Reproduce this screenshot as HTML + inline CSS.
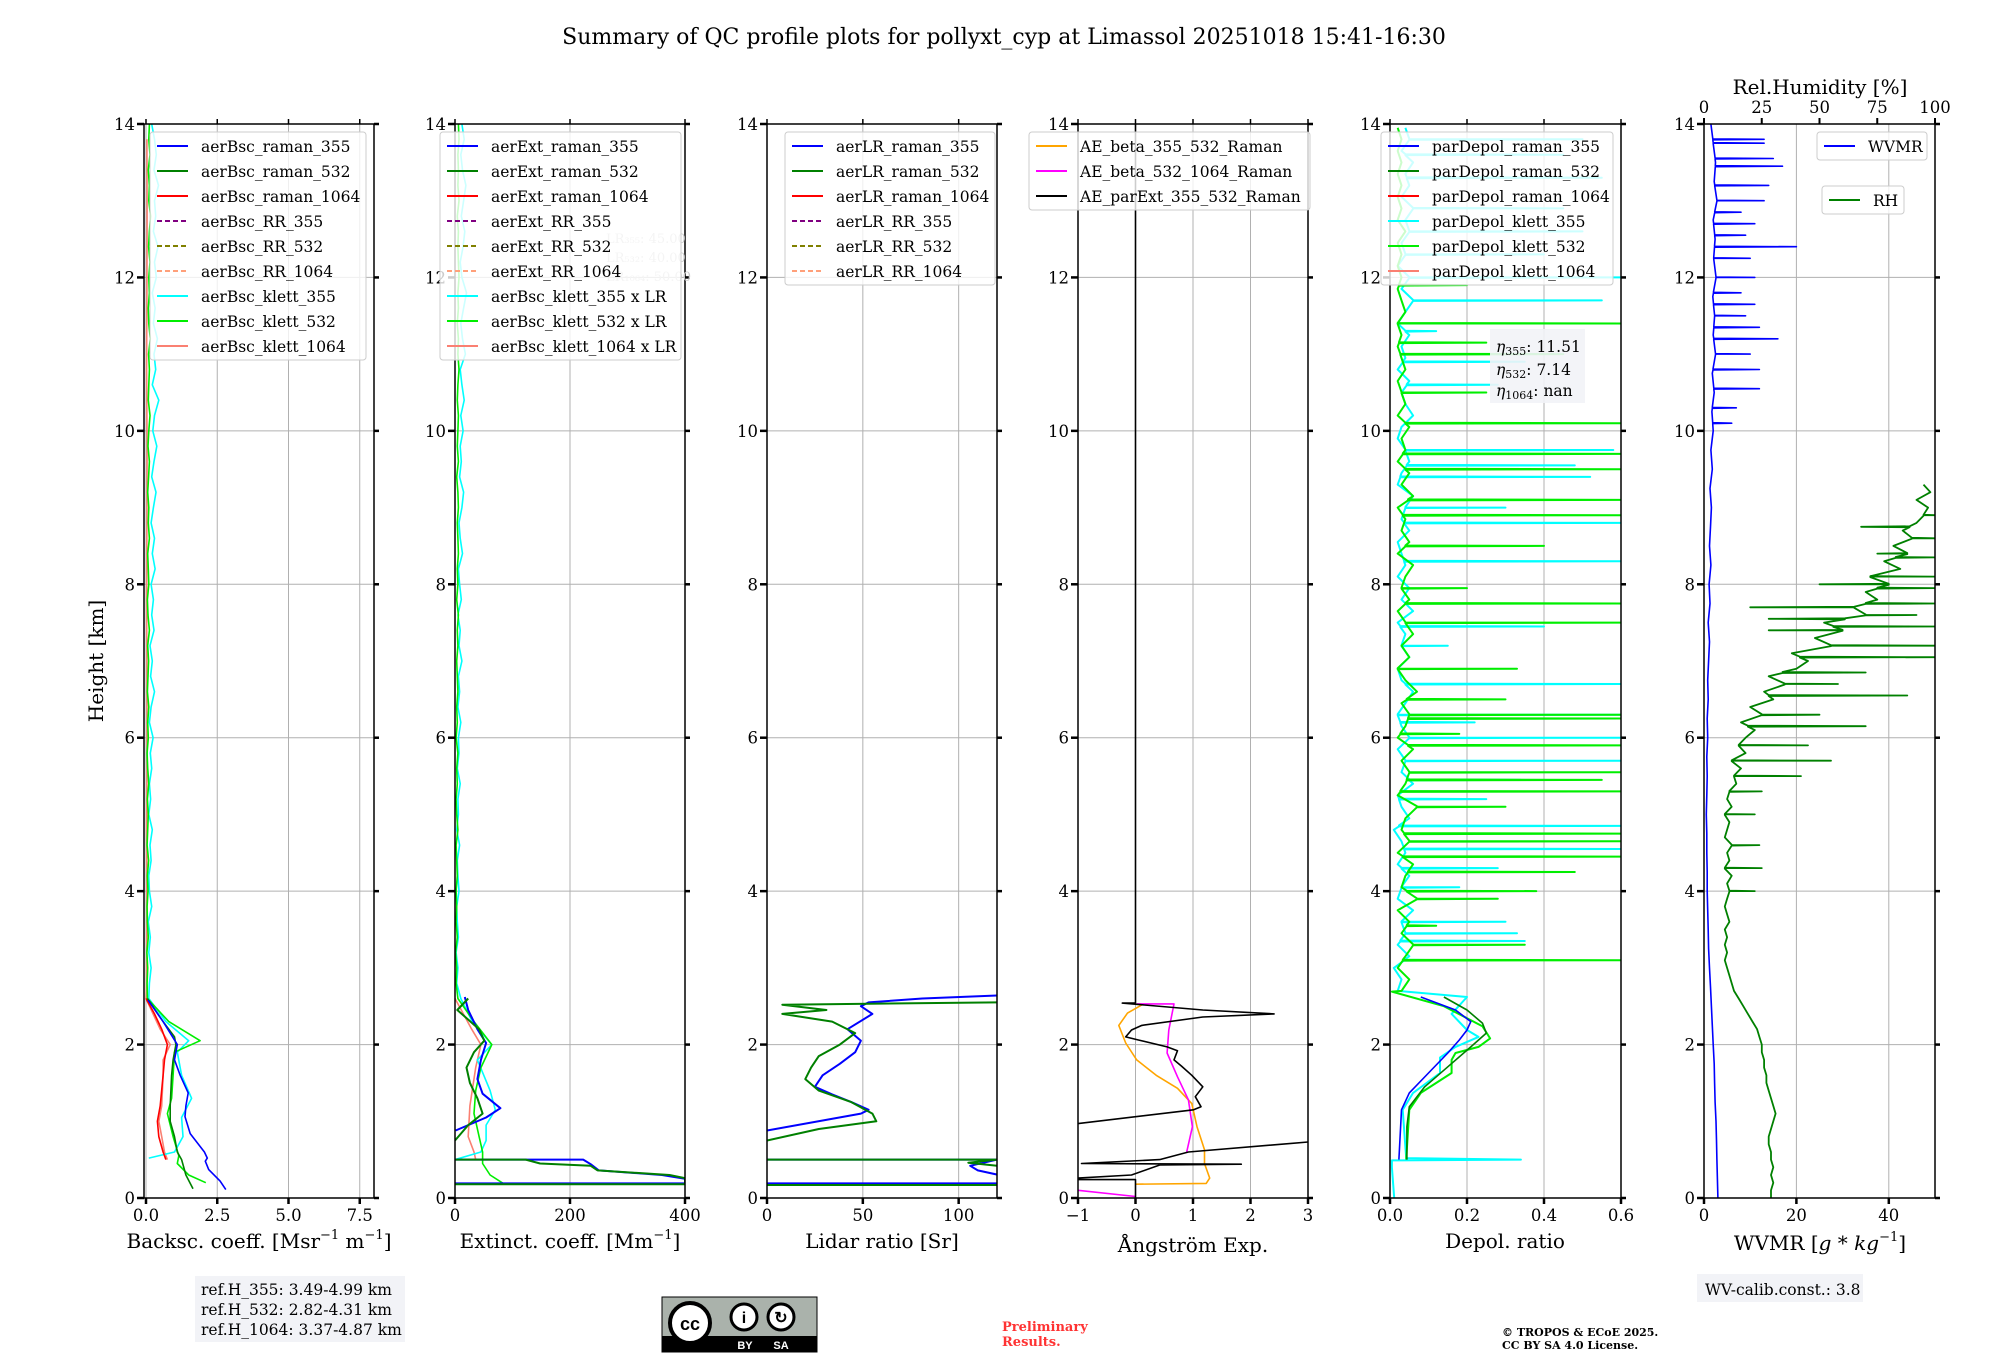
<!DOCTYPE html>
<html><head><meta charset="utf-8"><title>QC profile plots</title>
<style>
html,body{margin:0;padding:0;background:#fff;}
svg{display:block;font-family:"DejaVu Serif","Liberation Serif",serif;}
</style></head>
<body>
<svg id="chart" xmlns="http://www.w3.org/2000/svg" width="2000" height="1360" viewBox="0 0 2000 1360">
<rect x="0" y="0" width="2000" height="1360" fill="#fff"/>
<text x="1004" y="44" font-size="22" text-anchor="middle">Summary of QC profile plots for pollyxt_cyp at Limassol 20251018 15:41-16:30</text>
<text x="0" y="0" font-size="20" text-anchor="middle" transform="translate(103,661) rotate(-90)">Height [km]</text>
<text x="259" y="1248" font-size="20" text-anchor="middle">Backsc. coeff. [Msr<tspan dy="-9" font-size="13">−1</tspan><tspan dy="9"> m</tspan><tspan dy="-9" font-size="13">−1</tspan><tspan dy="9">]</tspan></text>
<text x="570" y="1248" font-size="20" text-anchor="middle">Extinct. coeff. [Mm<tspan dy="-9" font-size="13">−1</tspan><tspan dy="9">]</tspan></text>
<text x="882" y="1248" font-size="20" text-anchor="middle">Lidar ratio [Sr]</text>
<text x="1193" y="1252" font-size="20" text-anchor="middle">Ångström Exp.</text>
<text x="1505" y="1248" font-size="20" text-anchor="middle">Depol. ratio</text>
<text x="1820" y="1250" font-size="20" text-anchor="middle">WVMR [<tspan font-style="italic">g</tspan> * <tspan font-style="italic">kg</tspan><tspan dy="-9" font-size="13">−1</tspan><tspan dy="9">]</tspan></text>
<text x="1820" y="94" font-size="20" text-anchor="middle">Rel.Humidity [%]</text>
<g id="layers"></g>
<g>
<rect x="195" y="1276" width="210" height="66" fill="#f2f3f7"/>
<text x="201" y="1295" font-size="15.5">ref.H_355: 3.49-4.99 km</text>
<text x="201" y="1315" font-size="15.5">ref.H_532: 2.82-4.31 km</text>
<text x="201" y="1335" font-size="15.5">ref.H_1064: 3.37-4.87 km</text>
</g>
<g>
<rect x="662" y="1297" width="155" height="55" fill="#aab2ab" stroke="#000" stroke-width="1"/>
<rect x="662" y="1336" width="155" height="16" fill="#000"/>
<circle cx="690" cy="1323" r="20" fill="#fff" stroke="#000" stroke-width="4"/>
<text x="690" y="1330" font-size="18" font-weight="bold" text-anchor="middle" font-family="Liberation Sans, sans-serif">cc</text>
<circle cx="744" cy="1317" r="13" fill="#fff" stroke="#000" stroke-width="3"/>
<text x="744" y="1323" font-size="16" font-weight="bold" text-anchor="middle" font-family="Liberation Sans, sans-serif">i</text>
<circle cx="781" cy="1317" r="13" fill="#fff" stroke="#000" stroke-width="3"/>
<text x="781" y="1323" font-size="16" font-weight="bold" text-anchor="middle" font-family="Liberation Sans, sans-serif">↻</text>
<text x="745" y="1349" font-size="11" fill="#fff" font-weight="bold" text-anchor="middle" font-family="Liberation Sans, sans-serif">BY</text>
<text x="781" y="1349" font-size="11" fill="#fff" font-weight="bold" text-anchor="middle" font-family="Liberation Sans, sans-serif">SA</text>
</g>
<text x="1002" y="1331" font-size="13" font-weight="bold" fill="#ff3333">Preliminary</text>
<text x="1002" y="1346" font-size="13" font-weight="bold" fill="#ff3333">Results.</text>
<text x="1502" y="1336" font-size="11" font-weight="bold">© TROPOS &amp; ECoE 2025.</text>
<text x="1502" y="1349" font-size="11" font-weight="bold">CC BY SA 4.0 License.</text>
<g>
<rect x="1697" y="1274" width="166" height="28" fill="#f2f3f7"/>
<text x="1705" y="1295" font-size="15.5">WV-calib.const.: 3.8</text>
</g>
</svg>
<script>
// ---------- data (km heights / physical values) ----------
const bscR355H=[2.58,2.3,2.0,1.8,1.6,1.37,1.2,1.06,0.84,0.6,0.52,0.48,0.37,0.22,0.11];
const bscR355V=[0.07,0.6,1.1,1.0,1.2,1.48,1.4,1.37,1.55,2.05,2.15,2.08,2.2,2.6,2.8];
const bscR532H=[2.6,2.3,2.1,2.0,1.8,1.6,1.2,1.0,0.8,0.6,0.5,0.3,0.12];
const bscR532V=[0.05,0.6,1.0,1.05,0.95,0.9,0.85,0.85,1.0,1.1,1.25,1.4,1.65];
const bscR1064H=[2.6,2.4,2.2,2.0,1.8,1.6,1.2,1.0,0.8,0.6,0.5];
const bscR1064V=[0.0,0.3,0.55,0.75,0.65,0.6,0.5,0.4,0.45,0.6,0.7];
const bscK355H=[2.6,2.3,2.05,1.9,1.6,1.3,1.05,0.8,0.6,0.52];
const bscK355V=[0.1,0.7,1.5,1.1,1.25,1.6,1.25,1.3,1.0,0.1];
const bscK532H=[2.6,2.3,2.05,1.9,1.6,1.3,1.1,0.8,0.55,0.45,0.3,0.2];
const bscK532V=[0.05,0.8,1.9,1.0,0.95,0.9,0.75,0.95,1.15,1.1,1.5,2.1];
const bscK1064H=[2.6,2.4,2.2,2.0,1.8,1.6,1.2,1.0,0.8,0.6,0.5];
const bscK1064V=[0.0,0.25,0.5,0.85,0.6,0.6,0.55,0.45,0.55,0.65,0.75];
const bscK355Up=[0.12,0.18,0.1,0.15,0.08,0.2,0.12,0.1,0.18,0.14,0.22,0.1,0.16,0.12,0.2,0.15,0.25,0.12,0.18,0.3,0.16,0.22,0.14,0.28,0.2,0.26,0.18,0.32,0.22,0.3,0.18,0.26,0.35,0.2,0.28,0.38,0.24,0.3,0.45,0.22,0.34,0.28,0.4,0.26,0.32,0.22,0.36,0.3,0.42,0.26,0.34,0.3,0.44,0.28,0.36,0.3,0.2];
const bscK532Up=[0.04,0.06,0.03,0.08,0.05,0.04,0.07,0.05,0.09,0.04,0.06,0.08,0.05,0.1,0.06,0.04,0.08,0.06,0.1,0.05,0.07,0.09,0.06,0.12,0.07,0.05,0.1,0.08,0.06,0.12,0.08,0.1,0.06,0.09,0.12,0.07,0.1,0.14,0.08,0.1,0.12,0.09,0.15,0.1,0.08,0.12,0.1,0.14,0.09,0.12,0.16,0.1,0.12,0.08,0.14,0.1,0.12];
const bscK1064Up=[0.02,0.03,0.02,0.04,0.03,0.02,0.03,0.04,0.02,0.03,0.04,0.03];
const extR355H=[2.62,2.45,2.2,2.02,1.8,1.55,1.36,1.17,1.05,0.88,null,0.5,0.5,0.44,0.36,0.3,0.25,0.19,0.19];
const extR355V=[17,23,39,54,45,39,48,79,54,1,null,0,223,236,250,360,400,400,0];
const extR532H=[2.6,2.45,2.2,2.05,1.9,1.7,1.5,1.3,1.1,0.95,0.75,null,0.5,0.5,0.45,0.42,0.36,0.3,0.26,0.18,0.18];
const extR532V=[23,4,42,51,33,20,26,39,48,23,0,null,0,123,148,236,248,373,400,400,0];
const extK355H=[2.6,2.3,2.0,1.8,1.4,1.15,0.95,0.75,0.6,0.5];
const extK355V=[10,30,64,39,61,70,54,54,45,0];
const extK532H=[2.6,2.3,2.0,1.7,1.4,1.1,0.8,0.6,0.45,0.3,0.18];
const extK532V=[5,33,64,45,36,33,42,48,48,61,86];
const extK1064H=[2.6,2.2,2.0,1.7,1.2,0.8,0.6,0.5];
const extK1064V=[0,29,45,36,26,23,33,36];
const extK355Up=[3,5,2,6,4,3,7,5,4,8,3,6,5,9,4,7,6,10,5,8,6,12,7,9,5,11,8,6,13,9,7,12,15,8,11,9,14,10,16,12,9,18,13,10,15,20,12,9,14,17,11,15,19,13,10,16,12];
const extK532Up=[2,3,1,4,2,3,2,4,3,2,5,3,2,4,3,5,2,4,3,5,4,3,5,4,6,3,5,4,6,5,4,6,5,3,6,4,5,6,4,5,7,5,6,4,6,5,7,6,5,6,4,7,5,6,5,7,6];
const lr355H=[2.65,2.6,2.55,2.5,2.4,2.2,2.05,1.9,1.75,1.6,1.45,1.35,1.25,1.15,1.1,0.88,null,0.5,0.5,0.42,0.36,0.3,0.19,0.19];
const lr355V=[130,81,53,49,55,42,49,46,38,29,25,34,44,53,49,0,null,0,120,106,110,121,121,0];
const lr532H=[2.55,2.52,2.45,2.4,2.3,2.15,2.0,1.85,1.7,1.55,1.4,1.25,1.1,1.0,0.9,0.75,null,0.5,0.5,0.46,0.42,null,0.17,0.17];
const lr532V=[120,8,31,8,34,46,38,27,23,20,27,44,55,57,27,0,null,0,120,105,120,null,120,0];
const aeParExtH=[14,2.54,2.54,2.45,2.4,2.36,2.25,2.19,2.1,2.06,1.97,1.92,1.8,1.72,1.6,1.45,1.32,1.19,1.15,0.97,null,0.73,0.6,0.5,0.45,0.44,0.43,0.3,0.26,0.24,0.24,0];
const aeParExtV=[0,0,-0.23,1.17,2.41,1.17,0.11,-0.07,-0.17,0.05,0.55,0.73,0.67,0.8,0.98,1.17,1.04,1.14,1.01,-1,null,3,0.92,0.42,-0.94,1.84,0.42,-0.07,-1,-1,0,0];
const aeB355H=[2.53,2.41,2.25,2.02,1.8,1.6,1.43,1.23,0.93,0.63,0.45,0.26,0.19,0.18];
const aeB355V=[0.14,-0.14,-0.29,-0.17,0.02,0.36,0.73,0.98,1.07,1.2,1.2,1.29,1.23,0];
const aeB532H=[2.53,2.53,2.19,1.89,1.58,1.28,0.93,0.6,null,0.1,0.02];
const aeB532V=[0.02,0.67,0.58,0.55,0.73,0.92,0.99,0.89,null,-1,0];
const depR355H=[2.62,2.45,2.3,2.19,2.06,1.89,1.63,1.37,1.15,0.5];
const depR355V=[0.08,0.17,0.21,0.2,0.18,0.15,0.1,0.05,0.03,0.023];
const depR532H=[2.62,2.45,2.28,2.15,1.97,1.71,1.45,1.19,0.93,0.5];
const depR532V=[0.14,0.2,0.24,0.25,0.21,0.15,0.09,0.05,0.044,0.044];
const depK532H=[2.69,2.5,2.24,2.08,1.97,1.89,1.8,1.63,1.37,1.15,0.5];
const depK532V=[0.005,0.14,0.24,0.26,0.23,0.17,0.16,0.16,0.08,0.05,0.042];
const depK355H=[2.62,2.4,2.19,2.1,1.97,1.83,1.63,1.37,1.15,0.52,0.5,0.49,0.4,0.0];
const depK355V=[0.2,0.16,0.2,0.23,0.17,0.13,0.13,0.06,0.033,0.042,0.34,0.005,0.005,0.011];
const dep355Base=[0.02,0.03,0.01,0.05,0.02,0.04,0.03,0.06,0.02,0.03,0.05,0.02,0.04,0.03,0.01,0.05,0.03,0.02,0.06,0.03,0.04,0.02,0.05,0.03,0.02,0.04,0.06,0.03,0.02,0.05,0.03,0.04,0.02,0.06,0.03,0.05,0.02,0.04,0.03,0.02,0.05,0.03,0.04,0.06,0.02,0.03,0.05,0.04,0.02,0.03,0.06,0.04,0.03,0.05,0.02,0.04,0.03,0.05,0.02,0.04,0.06,0.03,0.05,0.02,0.04,0.03,0.05,0.04,0.06,0.03,0.05,0.04,0.06,0.03,0.05,0.04];
const dep532Base=[0.03,0.05,0.02,0.04,0.06,0.03,0.05,0.02,0.07,0.03,0.04,0.06,0.02,0.05,0.03,0.04,0.07,0.02,0.04,0.05,0.03,0.06,0.02,0.04,0.05,0.03,0.07,0.04,0.02,0.05,0.03,0.06,0.04,0.02,0.05,0.03,0.04,0.06,0.02,0.05,0.03,0.04,0.02,0.06,0.03,0.05,0.02,0.04,0.03,0.05,0.02,0.04,0.03,0.02,0.04,0.03,0.02,0.03,0.02,0.04,0.03,0.02,0.03,0.02,0.03,0.02,0.04,0.02,0.03,0.02,0.03,0.02,0.03,0.02,0.03,0.02];
const dep355SpikeH=[3.1,3.35,3.45,3.6,4.05,4.3,4.55,4.85,5.2,5.45,5.7,6.0,6.2,6.3,6.7,7.2,7.45,8.3,8.8,9.0,9.4,9.55,9.75,10.6,10.9,11.3,11.7,12.0,12.3,12.6,12.9,13.3,13.6,13.8];
const dep355SpikeV=[0.15,0.35,0.33,0.3,0.18,0.28,0.6,0.6,0.25,0.34,0.6,0.6,0.22,0.6,0.6,0.15,0.4,0.6,0.6,0.3,0.52,0.48,0.58,0.28,0.35,0.12,0.55,0.6,0.4,0.5,0.45,0.55,0.45,0.5];
const dep532SpikeH=[3.1,3.3,3.55,3.9,4.0,4.25,4.45,4.65,4.75,5.1,5.3,5.45,5.55,5.9,6.05,6.25,6.3,6.5,6.9,7.5,7.75,7.95,8.5,8.9,9.1,9.5,9.7,10.1,10.5,11.0,11.15,11.4,11.9];
const dep532SpikeV=[0.6,0.35,0.12,0.28,0.38,0.48,0.6,0.6,0.6,0.3,0.6,0.55,0.6,0.6,0.18,0.6,0.6,0.3,0.33,0.6,0.6,0.2,0.4,0.6,0.6,0.6,0.6,0.6,0.25,0.45,0.25,0.6,0.2];
const wvBase=[3.0,2.9,2.8,2.7,2.6,2.4,2.3,2.2,2.0,1.8,1.6,1.4,1.2,1.0,0.9,0.8,0.7,0.7,0.6,0.6,0.5,0.6,0.7,0.6,0.8,0.7,0.9,0.8,1.0,1.2,0.9,1.3,1.1,1.5,1.2,1.4,1.6,1.3,1.8,1.5,2.0,1.7,2.2,1.8,2.5,2.0,2.3,1.9,2.6,2.1,2.4,2.0,2.8,2.2,2.5,2.0,1.5];
const wvSpikeH=[10.1,10.3,10.55,10.8,11.0,11.2,11.35,11.5,11.65,11.8,12.0,12.25,12.4,12.55,12.7,12.85,13.0,13.2,13.45,13.55,13.75,13.8];
const wvSpikeV=[6,7,12,12,10,16,12,9,11,8,11,10,20,9,11,8,13,14,17,15,13,13];
const rhBase=[29,29,30,29,30,29,29,28,28,29, 30,31,30,29,28,27,27,26,26,25, 25,24,23,21,19,17,15,13,12,11, 10,9,10,9,10,9,11,10,9,10, 11,10,12,9,11,10,12,9,10,11, 9,12,10,11,14,13,16,12,18,15, 18,22,16,25,20,30,26,35,28,40, 45,38,55,48,60,52,70,65,75,70, 80,72,85,78,88,82,90,86,92,95, 97,92,98,95];
const rhSpikeH=[4.0,4.3,4.6,5.0,5.3,5.5,5.7,5.9,6.15,6.3,6.55,6.7,6.85,7.05,7.2,7.4,7.45,7.55,7.6,7.7,7.75,7.95,8.0,8.1,8.35,8.4,8.6,8.75,8.9];
const rhSpikeV=[22,25,24,22,25,42,55,45,70,50,88,58,70,100,100,28,100,28,92,20,100,100,50,100,100,75,100,68,100];

// ---------- rendering ----------
const NS='http://www.w3.org/2000/svg';
const layers=document.getElementById('layers');
function mk(tag,attrs,parent){const e=document.createElementNS(NS,tag);for(const k in attrs)e.setAttribute(k,attrs[k]);(parent||layers).appendChild(e);return e;}
const YB=1198, YT=124, HMAX=14;
function yOf(h){return YB-(h/HMAX)*(YB-YT);}
const panels=[
 {key:'bsc',x0:144,x1:374,d0:-0.07,d1:8.0,ticks:[0,2.5,5,7.5],labels:['0.0','2.5','5.0','7.5']},
 {key:'ext',x0:455,x1:685,d0:0,d1:400,ticks:[0,200,400],labels:['0','200','400']},
 {key:'lr',x0:767,x1:997,d0:0,d1:120,ticks:[0,50,100],labels:['0','50','100']},
 {key:'ae',x0:1078,x1:1308,d0:-1,d1:3,ticks:[-1,0,1,2,3],labels:['−1','0','1','2','3']},
 {key:'depol',x0:1390,x1:1621,d0:0,d1:0.6,ticks:[0,0.2,0.4,0.6],labels:['0.0','0.2','0.4','0.6']},
 {key:'wv',x0:1704,x1:1935,d0:0,d1:50,ticks:[0,20,40],labels:['0','20','40']}
];
function xFn(p){return v=>p.x0+(v-p.d0)/(p.d1-p.d0)*(p.x1-p.x0);}
function gridFrom(h0,dh,vals){return vals.map((v,i)=>[h0+i*dh,v]);}
function pairs(H,V){return H.map((h,i)=>[h,V[i]]);}
function withSpikes(base,sH,sV){
  const pts=base.slice();
  function bAt(h){for(let i=0;i<base.length-1;i++){if(base[i][0]<=h&&base[i+1][0]>=h){const t=(h-base[i][0])/(base[i+1][0]-base[i][0]);return base[i][1]+t*(base[i+1][1]-base[i][1]);}}return base[base.length-1][1];}
  sH.forEach((h,i)=>{const b=bAt(h);pts.push([h-0.006,b],[h,sV[i]],[h+0.006,b]);});
  pts.sort((a,b)=>a[0]-b[0]);return pts;
}
function pathD(pts,xf){let d='',pen=false;pts.forEach(p=>{if(p[0]===null||p[1]===null||isNaN(p[1])){pen=false;return;}const x=xf(p[1]).toFixed(1),y=yOf(p[0]).toFixed(1);d+=(pen?'L':'M')+x+' '+y+' ';pen=true;});return d;}

panels.forEach((p,pi)=>{
  const xf=xFn(p);
  const g=mk('g',{});
  
  
  const cp=mk('clipPath',{id:'clip-'+p.key},g);
  mk('rect',{x:p.x0,y:YT,width:p.x1-p.x0,height:YB-YT},cp);
  const grid=mk('g',{stroke:'#b0b0b0','stroke-width':1},g);
  
  
  for(let h=0;h<=14;h+=2){mk('line',{x1:p.x0,x2:p.x1,y1:yOf(h),y2:yOf(h)},grid);}
  p.ticks.forEach(t=>{mk('line',{x1:xf(t),x2:xf(t),y1:YT,y2:YB},grid);});
  p.g=g;p.xf=xf;
  p.series=mk('g',{'clip-path':'url(#clip-'+p.key+')',fill:'none','stroke-linejoin':'round'},g);
});

function line(pi,name,pts,color,w,op){
  const p=panels[pi];
  const e=mk('path',{d:pathD(pts,p.xf),stroke:color,'stroke-width':w||1.6,'stroke-opacity':op||1},p.series);
  
  
}
line(0,'bsc-klett-1064',pairs(bscK1064H,bscK1064V).concat(gridFrom(2.8,1.0,bscK1064Up)).sort((a,b)=>a[0]-b[0]),'#fa8072');
line(0,'bsc-klett-355',pairs(bscK355H,bscK355V).concat(gridFrom(2.8,0.2,bscK355Up)).sort((a,b)=>a[0]-b[0]),'#00ffff');
line(0,'bsc-klett-532',pairs(bscK532H,bscK532V).concat(gridFrom(2.8,0.2,bscK532Up)).sort((a,b)=>a[0]-b[0]),'#00ee00');
line(0,'bsc-raman-1064',pairs(bscR1064H,bscR1064V),'#ff0000');
line(0,'bsc-raman-532',pairs(bscR532H,bscR532V),'#008000');
line(0,'bsc-raman-355',pairs(bscR355H,bscR355V),'#0000ff');
line(1,'ext-klett-1064',pairs(extK1064H,extK1064V),'#fa8072');
line(1,'ext-klett-355',pairs(extK355H,extK355V).concat(gridFrom(2.8,0.2,extK355Up)).sort((a,b)=>a[0]-b[0]),'#00ffff');
line(1,'ext-klett-532',pairs(extK532H,extK532V).concat(gridFrom(2.8,0.2,extK532Up)).sort((a,b)=>a[0]-b[0]),'#00ee00');
line(1,'ext-raman-355',pairs(extR355H,extR355V),'#0000ff',2);
line(1,'ext-raman-532',pairs(extR532H,extR532V),'#008000',2);
line(2,'lr-raman-355',pairs(lr355H,lr355V),'#0000ff',2);
line(2,'lr-raman-532',pairs(lr532H,lr532V),'#008000',2);
line(3,'ae-beta-355-532',pairs(aeB355H,aeB355V),'#ffa500');
line(3,'ae-beta-532-1064',pairs(aeB532H,aeB532V),'#ff00ff');
line(3,'ae-parext-355-532',pairs(aeParExtH,aeParExtV),'#000000');
line(4,'depol-klett-355',withSpikes(gridFrom(2.7,0.15,dep355Base),dep355SpikeH,dep355SpikeV).concat(pairs(depK355H,depK355V)).sort((a,b)=>b[0]-a[0]),'#00ffff',2);
line(4,'depol-klett-532',withSpikes(gridFrom(2.7,0.15,dep532Base),dep532SpikeH,dep532SpikeV).concat(pairs(depK532H,depK532V)).sort((a,b)=>b[0]-a[0]),'#00ee00',2);
line(4,'depol-raman-532',pairs(depR532H,depR532V),'#008000');
line(4,'depol-raman-355',pairs(depR355H,depR355V),'#0000ff');
line(5,'wvmr-profile',withSpikes(gridFrom(0,0.25,wvBase),wvSpikeH,wvSpikeV),'#0000ff',1.6);
const rhPts=withSpikes(gridFrom(0,0.1,rhBase),rhSpikeH,rhSpikeV).map(p=>[p[0],p[1]/2]);
line(5,'rh-profile',rhPts,'#008000',1.8);

panels.forEach((p,pi)=>{
  const g=p.g, xf=p.xf;
  const ax=mk('g',{stroke:'#000',fill:'none'},g);
  
  
  mk('rect',{x:p.x0,y:YT,width:p.x1-p.x0,height:YB-YT,'stroke-width':1.5},ax);
  for(let h=0;h<=14;h+=2){
    const y=yOf(h);
    mk('line',{x1:p.x0-7,x2:p.x0,y1:y,y2:y,'stroke-width':2.5},ax);
    mk('line',{x1:p.x1,x2:p.x1+5,y1:y,y2:y,'stroke-width':2.5},ax);
    const t=mk('text',{x:p.x0-9,y:y+6,'font-size':16.5,'text-anchor':'end',fill:'#000',stroke:'none'},g);
    
    
    t.textContent=String(h);
  }
  p.ticks.forEach((v,i)=>{
    const x=xf(v);
    mk('line',{x1:x,x2:x,y1:YB,y2:YB+6,'stroke-width':2.5},ax);
    if(pi<5) mk('line',{x1:x,x2:x,y1:YT,y2:YT-5,'stroke-width':1.5},ax);
    const t=mk('text',{x:x,y:YB+23,'font-size':16.5,'text-anchor':'middle',fill:'#000',stroke:'none'},g);
    
    
    t.textContent=p.labels[i];
  });
  if(pi===5){
    [0,25,50,75,100].forEach(v=>{
      const x=p.x0+v/100*(p.x1-p.x0);
      mk('line',{x1:x,x2:x,y1:YT,y2:YT-6,'stroke-width':2},ax);
      const t=mk('text',{x:x,y:YT-11,'font-size':16.5,'text-anchor':'middle',fill:'#000',stroke:'none'},g);
      
      
      t.textContent=String(v);
    });
  }
});

[['LR₃₅₅: 45.00',243],['LR₅₃₂: 40.00',262],['LR₁₀₆₄: 50.00',281]].forEach(a=>{
  const t=mk('text',{x:606,y:a[1],'font-size':13,fill:'#c8c8c8'});
  
  
  t.textContent=a[0];
});

function legend(name,x,y,w,items){
  const g=mk('g',{});
  
  
  mk('rect',{x:x,y:y,width:w,height:items.length*25+3,rx:3,fill:'#fff','fill-opacity':0.8,stroke:'#cccccc','stroke-width':1},g);
  items.forEach((it,i)=>{
    const cy=y+14+i*25;
    const ln=mk('line',{x1:x+7,x2:x+38,y1:cy,y2:cy,stroke:it[1],'stroke-width':2,'stroke-dasharray':it[2]?'5,3':'none'},g);
    
    
    const t=mk('text',{x:x+51,y:cy+6,'font-size':15.5,fill:'#000'},g);
    
    
    t.textContent=it[0];
  });
}
legend('legend-backscatter',150,132,216,[['aerBsc_raman_355','#0000ff'],['aerBsc_raman_532','#008000'],['aerBsc_raman_1064','#ff0000'],['aerBsc_RR_355','#800080',1],['aerBsc_RR_532','#808000',1],['aerBsc_RR_1064','#ffa07a',1],['aerBsc_klett_355','#00ffff'],['aerBsc_klett_532','#00ee00'],['aerBsc_klett_1064','#fa8072']]);
legend('legend-extinction',440,132,241,[['aerExt_raman_355','#0000ff'],['aerExt_raman_532','#008000'],['aerExt_raman_1064','#ff0000'],['aerExt_RR_355','#800080',1],['aerExt_RR_532','#808000',1],['aerExt_RR_1064','#ffa07a',1],['aerBsc_klett_355 x LR','#00ffff'],['aerBsc_klett_532 x LR','#00ee00'],['aerBsc_klett_1064 x LR','#fa8072']]);
legend('legend-lidar-ratio',785,132,210,[['aerLR_raman_355','#0000ff'],['aerLR_raman_532','#008000'],['aerLR_raman_1064','#ff0000'],['aerLR_RR_355','#800080',1],['aerLR_RR_532','#808000',1],['aerLR_RR_1064','#ffa07a',1]]);
legend('legend-angstrom',1029,132,281,[['AE_beta_355_532_Raman','#ffa500'],['AE_beta_532_1064_Raman','#ff00ff'],['AE_parExt_355_532_Raman','#000000']]);
legend('legend-depol',1381,132,232,[['parDepol_raman_355','#0000ff'],['parDepol_raman_532','#008000'],['parDepol_raman_1064','#ff0000'],['parDepol_klett_355','#00ffff'],['parDepol_klett_532','#00ee00'],['parDepol_klett_1064','#fa8072']]);
legend('legend-wvmr',1817,132,110,[['WVMR','#0000ff']]);
legend('legend-rh',1822,186,82,[['RH','#008000']]);

const eg=mk('g',{});


mk('rect',{x:1490,y:329,width:95,height:74,fill:'#f2f3f7','fill-opacity':0.9},eg);
[['355','11.51',352],['532','7.14',375],['1064','nan',396]].forEach(a=>{
  const t=mk('text',{x:1496,y:a[2],'font-size':15.5,fill:'#000'},eg);
  
  
  t.innerHTML='<tspan font-style="italic">η</tspan><tspan font-size="11" dy="3">'+a[0]+'</tspan><tspan dy="-3">: '+a[1]+'</tspan>';
});
</script>
</body></html>
